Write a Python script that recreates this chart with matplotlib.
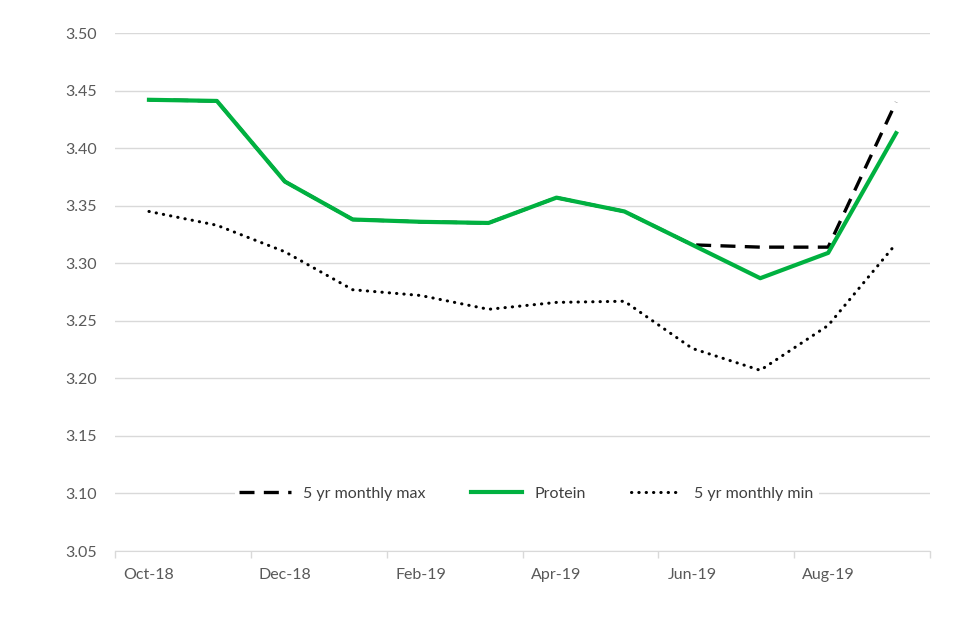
import matplotlib
matplotlib.use('Agg')
import matplotlib.pyplot as plt

months = ['Oct-18', 'Nov-18', 'Dec-18', 'Jan-19', 'Feb-19', 'Mar-19',
          'Apr-19', 'May-19', 'Jun-19', 'Jul-19', 'Aug-19', 'Sep-19']
protein = [3.442, 3.441, 3.371, 3.338, 3.336, 3.335,
           3.357, 3.345, 3.316, 3.287, 3.309, 3.413]
max_5yr = [3.442, 3.441, 3.371, 3.338, 3.336, 3.335,
           3.357, 3.345, 3.316, 3.314, 3.314, 3.440]
min_5yr = [3.345, 3.333, 3.310, 3.277, 3.272, 3.260,
           3.266, 3.267, 3.226, 3.207, 3.246, 3.317]
yticks = [3.05, 3.10, 3.15, 3.20, 3.25, 3.30, 3.35, 3.40, 3.45, 3.50]

plt.rcParams['font.family'] = ['Lato', 'DejaVu Sans']

fig = plt.figure(figsize=(9.6, 6.4), dpi=100)
ax = fig.add_axes([0.1198, 0.139, 0.8490, 0.8094])

x = list(range(len(months)))
ax.plot(x, max_5yr, color='black', lw=2.4, dashes=(4.5, 2.8),
        label='5 yr monthly max', zorder=3)
ax.plot(x, protein, color='#00B140', lw=3.0, label='Protein', zorder=4)
ax.plot(x, min_5yr, color='black', lw=2.2, linestyle=(0, (0.1, 2.3)),
        dash_capstyle='round', label='5 yr monthly min', zorder=3)

ax.set_ylim(3.05, 3.50)
ax.set_yticks(yticks)
ax.set_yticklabels([f'{v:.2f}' for v in yticks])
ax.set_xlim(-0.5, len(months) - 0.5)

# tick marks between categories, labels on every other month
ax.set_xticks([i - 0.5 for i in range(0, len(months) + 1, 2)])
ax.set_xticklabels([])
ax.set_xticks(x[::2], minor=True)
ax.set_xticklabels(months[::2], minor=True)
ax.tick_params(which='both', labelcolor='#595959', labelsize=11.5)
ax.tick_params(axis='x', which='major', length=5, color='#d9d9d9', width=1)
ax.tick_params(axis='x', which='minor', length=0, pad=12)
ax.tick_params(axis='y', length=0, pad=13)

ax.grid(axis='y', color='#d9d9d9', lw=1)
ax.set_axisbelow(True)
for s in ['top', 'right', 'left']:
    ax.spines[s].set_visible(False)
ax.spines['bottom'].set_color('#d9d9d9')

leg = ax.legend(loc='center', bbox_to_anchor=(0.505, 0.1105), ncol=3,
                frameon=True, framealpha=1, edgecolor='none',
                fontsize=11.5, handlelength=3.2, handletextpad=0.8,
                columnspacing=2.8, borderpad=0.3)
for t in leg.get_texts():
    t.set_color('#404040')

plt.savefig('out.png', dpi=100)
